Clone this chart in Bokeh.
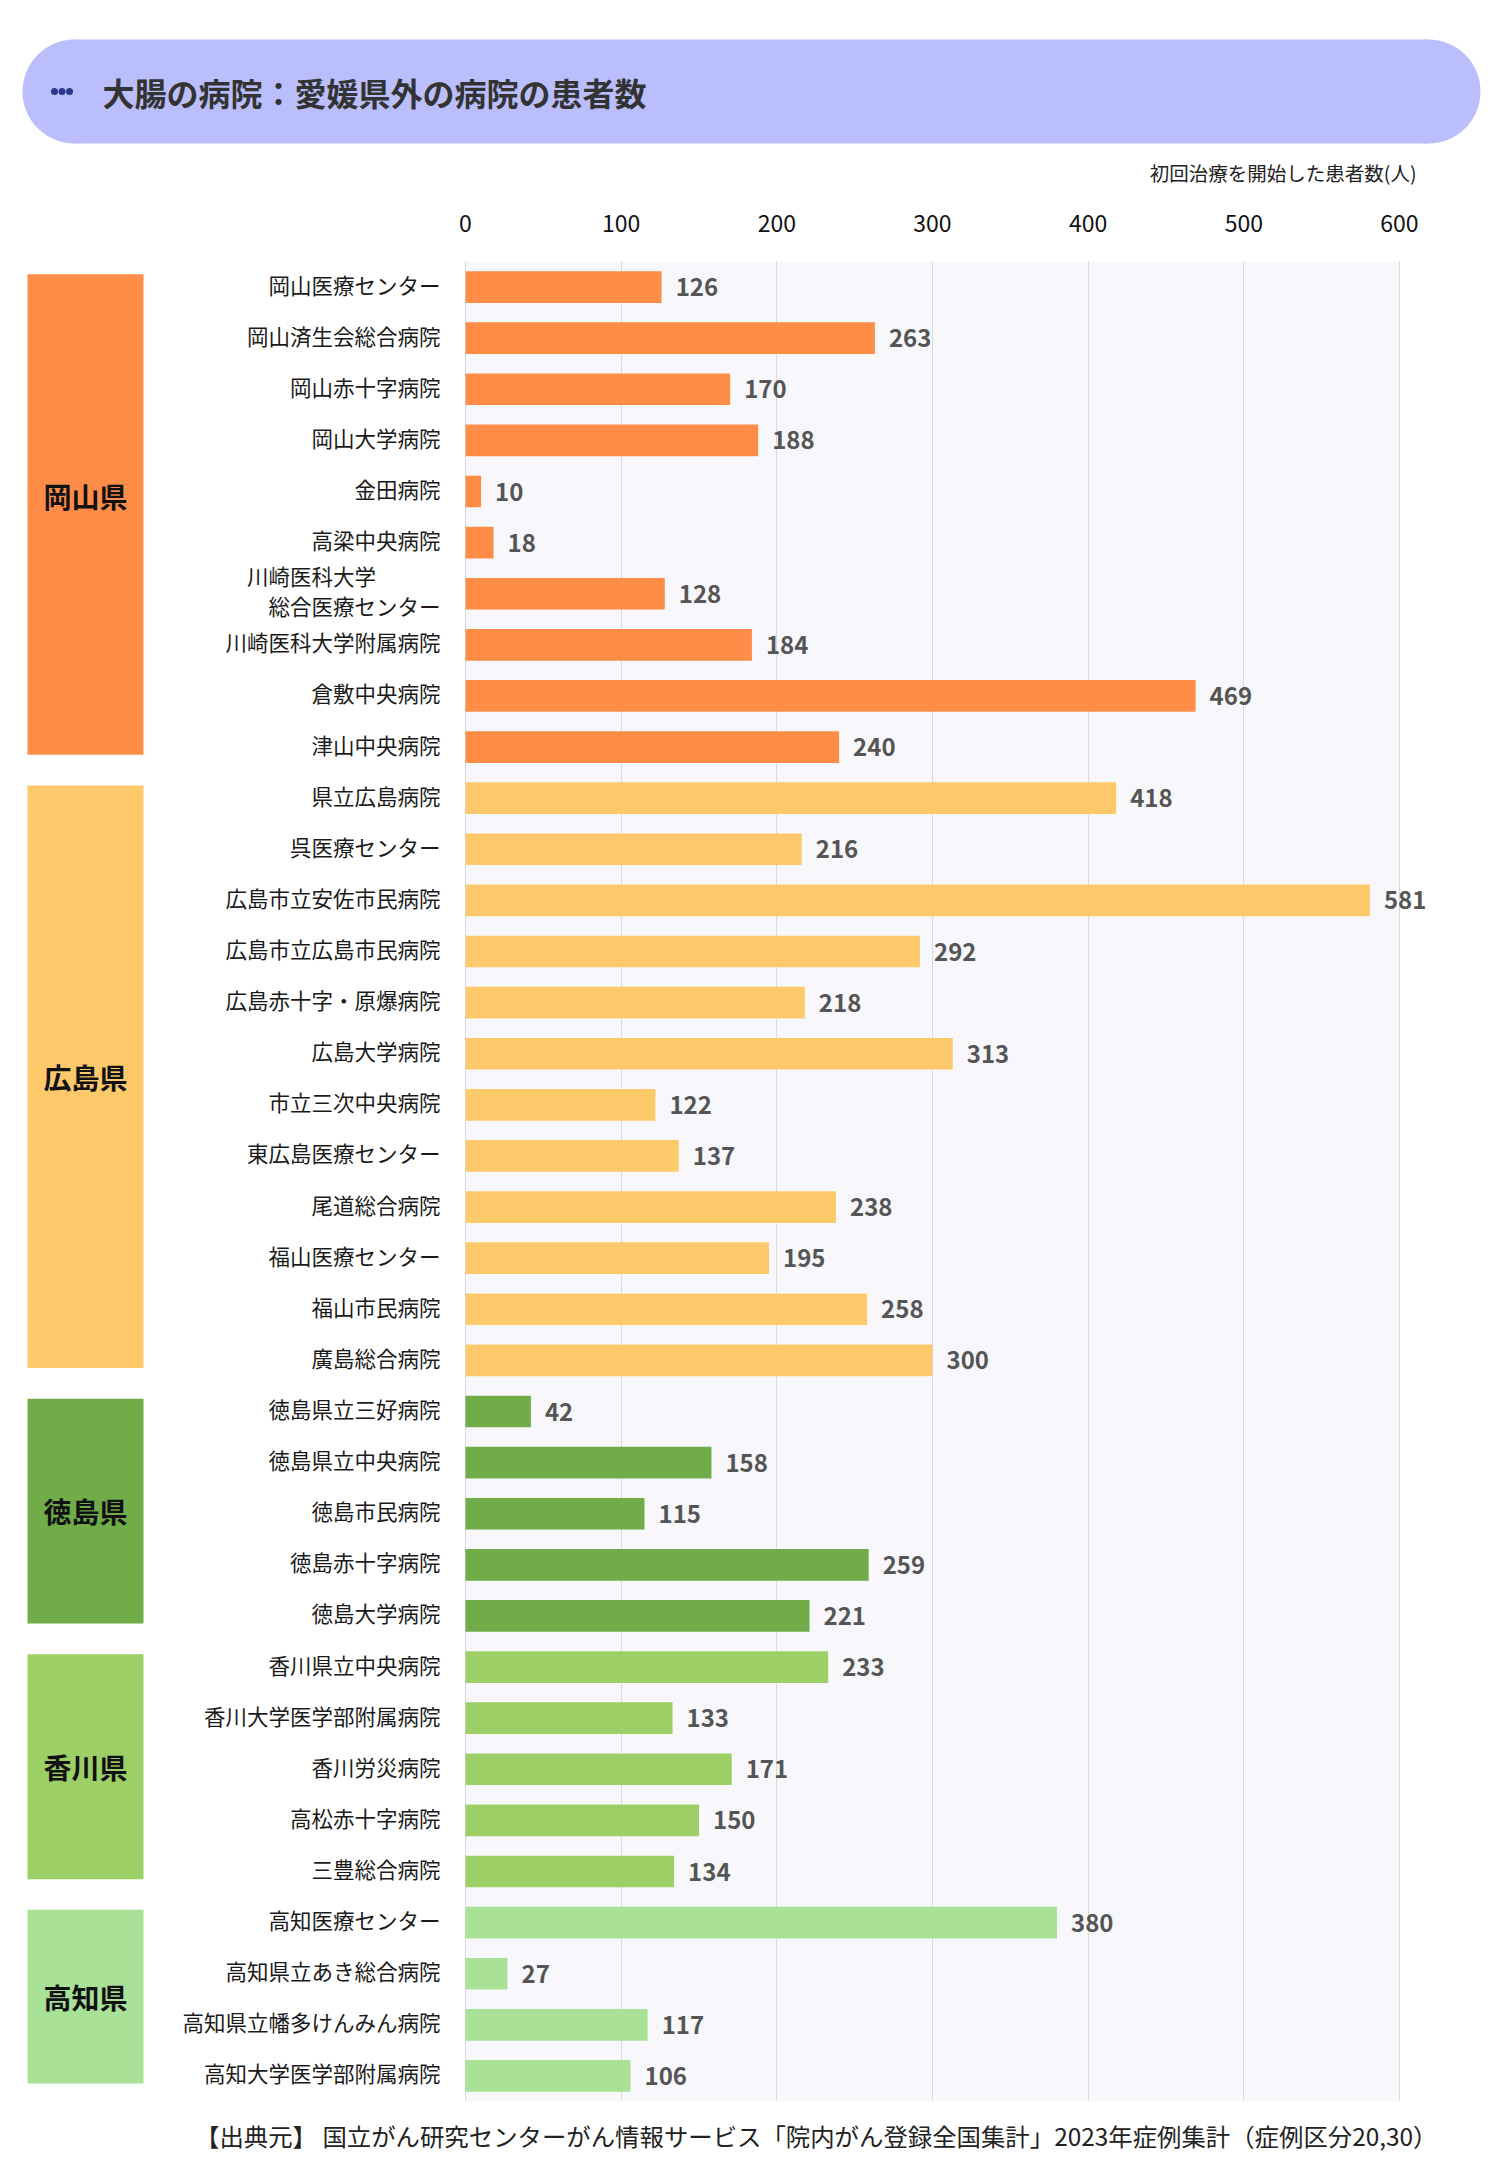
from bokeh.plotting import figure
from bokeh.models import Range1d, FixedTicker, ColumnDataSource
from bokeh.layouts import column
from bokeh.core.properties import value
from bokeh.embed import file_html
from bokeh.resources import INLINE

FONT = "Noto Sans CJK JP"

# data
title_text = "大腸の病院：愛媛県外の病院の患者数"
axis_caption = "初回治療を開始した患者数(人)"
source_note = "【出典元】 国立がん研究センターがん情報サービス「院内がん登録全国集計」2023年症例集計（症例区分20,30）"
tick_values = [0, 100, 200, 300, 400, 500, 600]

prefectures = ["岡山県", "広島県", "徳島県", "香川県", "高知県"]
pref_colors = ["#FF8C47", "#FDC96B", "#70AC47", "#9DCF67", "#A9E197"]

okayama_names = ["岡山医療センター", "岡山済生会総合病院", "岡山赤十字病院", "岡山大学病院",
                 "金田病院", "高梁中央病院", "川崎医科大学　　　\n総合医療センター",
                 "川崎医科大学附属病院", "倉敷中央病院", "津山中央病院"]
okayama_values = [126, 263, 170, 188, 10, 18, 128, 184, 469, 240]

hiroshima_names = ["県立広島病院", "呉医療センター", "広島市立安佐市民病院", "広島市立広島市民病院",
                   "広島赤十字・原爆病院", "広島大学病院", "市立三次中央病院", "東広島医療センター",
                   "尾道総合病院", "福山医療センター", "福山市民病院", "廣島総合病院"]
hiroshima_values = [418, 216, 581, 292, 218, 313, 122, 137, 238, 195, 258, 300]

tokushima_names = ["徳島県立三好病院", "徳島県立中央病院", "徳島市民病院", "徳島赤十字病院", "徳島大学病院"]
tokushima_values = [42, 158, 115, 259, 221]

kagawa_names = ["香川県立中央病院", "香川大学医学部附属病院", "香川労災病院", "高松赤十字病院", "三豊総合病院"]
kagawa_values = [233, 133, 171, 150, 134]

kochi_names = ["高知医療センター", "高知県立あき総合病院", "高知県立幡多けんみん病院", "高知大学医学部附属病院"]
kochi_values = [380, 27, 117, 106]

groups = [(okayama_names, okayama_values), (hiroshima_names, hiroshima_values),
          (tokushima_names, tokushima_values), (kagawa_names, kagawa_values),
          (kochi_names, kochi_values)]

names, values, colors, rows = [], [], [], []
pref_first, pref_last = [], []
for (g_names, g_values), col in zip(groups, pref_colors):
    pref_first.append(len(names))
    for nm, v in zip(g_names, g_values):
        rows.append(len(names))
        names.append(nm)
        values.append(v)
        colors.append(col)
    pref_last.append(len(names) - 1)
n = len(names)

src = ColumnDataSource(data=dict(row=rows, value=values, name=names, color=colors,
                                 label=[str(v) for v in values]))

W = 1484
ZERO_PX = 465                 # pixel position of 0 inside the main figure
PX = 934 / tick_values[-1]    # pixels per patient


def px_to_x(px):
    return (px - ZERO_PX) / PX


# header
HH = 190
head = figure(width=W, height=HH, x_range=Range1d(0, W), y_range=Range1d(HH, 0),
              x_axis_location=None, y_axis_location=None, toolbar_location=None,
              output_backend="svg", min_border=0)
head.grid.visible = False
head.outline_line_color = None
head.quad(left=74, right=1428, top=39, bottom=143, fill_color="#BBBEFD", line_color=None)
head.circle(x=[74, 1428], y=[91, 91], radius=52, fill_color="#BBBEFD", line_color=None)
head.scatter(x=[54, 61.5, 69], y=[91, 91, 91], size=7, fill_color="#2B3990", line_color=None)
head.text(x=[102], y=[91], text=[title_text], text_font=value(FONT), text_font_size="32px",
          text_font_style="bold", text_color="#333333", text_baseline="middle")
head.text(x=[1416], y=[172], text=[axis_caption], text_font=value(FONT), text_font_size="19.5px",
          text_color="#222222", text_baseline="middle", text_align="right")

# main chart
p = figure(width=W, height=1911,
           x_range=Range1d(px_to_x(0), px_to_x(W)), y_range=Range1d(n - 0.5, -0.5),
           x_axis_location="above", y_axis_location=None, toolbar_location=None,
           output_backend="svg", min_border_left=0, min_border_right=0,
           min_border_top=71, min_border_bottom=0)
p.outline_line_color = None
p.xaxis.ticker = FixedTicker(ticks=tick_values)
p.xaxis.axis_line_color = None
p.xaxis.major_tick_line_color = None
p.xaxis.minor_tick_line_color = None
p.xaxis.major_label_text_font = FONT
p.xaxis.major_label_text_font_size = "23px"
p.xaxis.major_label_text_color = "#111111"
p.xaxis.major_label_standoff = 24
p.xgrid.ticker = FixedTicker(ticks=tick_values)
p.xgrid.grid_line_color = "#DADADA"
p.ygrid.visible = False

p.quad(left=tick_values[0], right=tick_values[-1], top=-0.5, bottom=n - 0.5,
       fill_color="#F8F8FC", line_color=None, level="image")

p.hbar(y="row", left=0, right="value", height=0.62, fill_color="color",
       line_color=None, source=src)
p.text(x="value", y="row", text="label", x_offset=14, text_baseline="middle",
       text_font=value(FONT), text_font_style="bold", text_font_size="24px",
       text_color="#555555", source=src)
p.text(x=0, y="row", text="name", x_offset=-25, y_offset=-3, text_align="right",
       text_baseline="middle", text_font=value(FONT), text_font_size="21.5px",
       text_color="#1A1A1A", text_line_height=0.95, source=src)

# prefecture blocks
box_top = [f - 0.25 for f in pref_first]
box_bottom = [l + 0.15 for l in pref_last]
label_shift = [-0.36, 0, 0, 0, 0]
p.quad(left=px_to_x(27), right=px_to_x(143), top=box_top, bottom=box_bottom,
       fill_color=pref_colors, line_color=None)
p.text(x=[px_to_x(85)] * len(prefectures),
       y=[(t + b) / 2 + s for t, b, s in zip(box_top, box_bottom, label_shift)],
       text=prefectures, text_align="center", text_baseline="middle",
       text_font=value(FONT), text_font_style="bold", text_font_size="28px",
       text_color="#111111")

# footer
FH = 51
foot = figure(width=W, height=FH, x_range=Range1d(0, W), y_range=Range1d(FH, 0),
              x_axis_location=None, y_axis_location=None, toolbar_location=None,
              output_backend="svg", min_border=0)
foot.grid.visible = False
foot.outline_line_color = None
foot.text(x=[1437], y=[34], text=[source_note], text_font=value(FONT), text_font_size="24.4px",
          text_color="#222222", text_baseline="middle", text_align="right")

page = column(head, p, foot, spacing=0)
open("out.html", "w").write(file_html(page, INLINE))
